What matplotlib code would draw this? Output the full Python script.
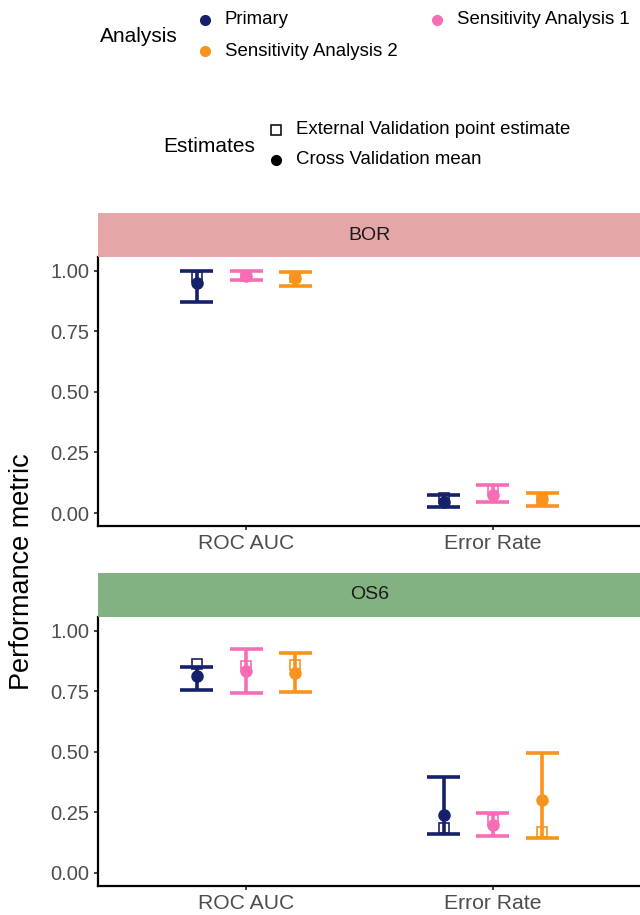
import numpy as np
import matplotlib
matplotlib.use("Agg")
import matplotlib.pyplot as plt

plt.rcParams['font.family'] = ['Liberation Sans', 'DejaVu Sans']

# data
metrics = ["ROC AUC", "Error Rate"]
analyses = ["Primary", "Sensitivity Analysis 1", "Sensitivity Analysis 2"]
colors = ["#16216B", "#F66DB5", "#F7931E"]
outcomes = ["BOR", "OS6"]
strip_colors = ["#E4A6A6", "#82B282"]

# rows = analysis, cols = metric
bor_lower = [[0.873, 0.026], [0.963, 0.044], [0.938, 0.030]]
bor_upper = [[1.000, 0.074], [1.000, 0.116], [0.995, 0.084]]
bor_cv_mean = [[0.950, 0.047], [0.980, 0.075], [0.971, 0.057]]
bor_ext = [[0.975, 0.062], [0.980, 0.095], [0.975, 0.057]]

os6_lower = [[0.756, 0.161], [0.743, 0.153], [0.749, 0.145]]
os6_upper = [[0.850, 0.397], [0.926, 0.248], [0.908, 0.496]]
os6_cv_mean = [[0.811, 0.240], [0.832, 0.198], [0.826, 0.302]]
os6_ext = [[0.864, 0.186], [0.855, 0.219], [0.860, 0.169]]

panels = [
    (bor_lower, bor_upper, bor_cv_mean, bor_ext),
    (os6_lower, os6_upper, os6_cv_mean, os6_ext),
]

yticks = [0.0, 0.25, 0.5, 0.75, 1.0]
ytick_labels = ["0.00", "0.25", "0.50", "0.75", "1.00"]

dodge = [-0.2, 0.0, 0.2]
cap_half = 0.067

fig = plt.figure(figsize=(6.4, 9.15), dpi=100)

# axes layout (figure fractions)
ax_left, ax_width = 0.1531, 0.8484
ax_bottoms = [0.4251, 0.0317]
ax_height = 0.294
strip_height = 0.0481

x = np.arange(1, len(metrics) + 1)

for p, (lower, upper, cv_mean, ext) in enumerate(panels):
    ax = fig.add_axes([ax_left, ax_bottoms[p], ax_width, ax_height])
    for i, name in enumerate(analyses):
        xs = x + dodge[i]
        lo = np.array(lower[i])
        hi = np.array(upper[i])
        ax.vlines(xs, lo, hi, color=colors[i], lw=2.6, zorder=2)
        ax.hlines(lo, xs - cap_half, xs + cap_half, color=colors[i], lw=2.6, zorder=2)
        ax.hlines(hi, xs - cap_half, xs + cap_half, color=colors[i], lw=2.6, zorder=2)
        ax.plot(xs, ext[i], ls="none", marker="s", ms=7, mfc="none",
                mec=colors[i], mew=1.2, zorder=3)
        ax.plot(xs, cv_mean[i], ls="none", marker="o", ms=8, color=colors[i], zorder=4)

    ax.set_xlim(0.4, 2.6)
    ax.set_ylim(-0.0537, 1.0566)
    ax.set_xticks(x)
    ax.set_xticklabels(metrics, fontsize=15.2, color="#4D4D4D")
    ax.set_yticks(yticks)
    ax.set_yticklabels(ytick_labels, fontsize=14.5, color="#4D4D4D")
    ax.tick_params(length=3, width=1.3, color="#333333", pad=3)
    for s in ["top", "right"]:
        ax.spines[s].set_visible(False)
    for s in ["left", "bottom"]:
        ax.spines[s].set_linewidth(1.6)
        ax.spines[s].set_color("black")

    # facet strip
    sax = fig.add_axes([ax_left, ax_bottoms[p] + ax_height, ax_width, strip_height])
    sax.set_facecolor(strip_colors[p])
    sax.set_xticks([])
    sax.set_yticks([])
    for s in sax.spines.values():
        s.set_visible(False)
    sax.text(0.5, 0.5, outcomes[p], ha="center", va="center", fontsize=14,
             color="#1A1A1A", transform=sax.transAxes)

fig.text(22 / 640, 1 - 572 / 915, "Performance metric", rotation=90,
         ha="center", va="center", fontsize=19.5)

# legends, drawn in pixel coordinates on an overlay
lax = fig.add_axes([0, 0, 1, 1])
lax.set_xlim(0, 640)
lax.set_ylim(915, 0)
lax.axis("off")

lax.text(100, 36, "Analysis", ha="left", va="center", fontsize=15)
analysis_key_pos = [(205, 20), (437, 20), (205, 51)]
for i, name in enumerate(analyses):
    kx, ky = analysis_key_pos[i]
    lax.plot(kx, ky, marker="o", ms=7, color=colors[i], ls="none")
    lax.text(kx + 20, ky, name, ha="left", va="center", fontsize=13.4)

lax.text(163, 147, "Estimates", ha="left", va="center", fontsize=15)
lax.plot(276, 130, marker="s", ms=7.5, mfc="none", mec="black", mew=1.1, ls="none")
lax.text(296, 130, "External Validation point estimate", ha="left", va="center", fontsize=13.4)
lax.plot(276, 160, marker="o", ms=7, color="black", ls="none")
lax.text(296, 160, "Cross Validation mean", ha="left", va="center", fontsize=13.4)

fig.savefig("out.png", dpi=100)
